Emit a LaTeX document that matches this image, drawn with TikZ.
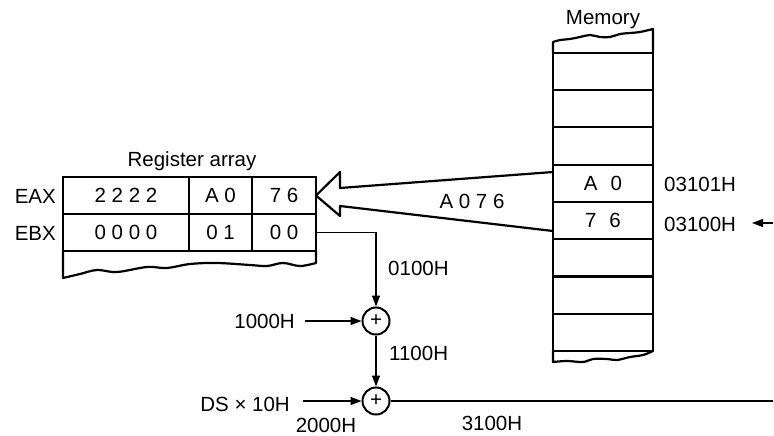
\documentclass[tikz,border=0pt]{standalone}
\usepackage{fontspec}
\setmainfont{Liberation Sans}
\usetikzlibrary{arrows.meta}
\begin{document}
\begin{tikzpicture}[x=1pt,y=-1pt,
  font=\fontsize{20.5}{24}\selectfont,
  boxline/.style={line width=2.2pt, line join=round},
  conn/.style={line width=1.2pt},
  arr/.style={conn,-{Triangle[length=11pt,width=8pt]}},
  cell/.style={draw,line width=2.2pt,minimum height=37.3pt,inner sep=0pt,anchor=center},
  regcell/.style={draw,line width=2.2pt,minimum height=37pt,inner sep=0pt,anchor=center},
  adder/.style={circle,draw,line width=2pt,minimum size=27pt,inner sep=0pt},
  lbl/.style={inner sep=0pt}]
\useasboundingbox (0,0) rectangle (774,436);
\fill[white] (0,0) rectangle (774,436);

% ---------- Big transfer arrow ----------
\coordinate (tip) at (316,195.5);
\draw[boxline] (553,172) -- (340,188) -- (340,172) -- (tip) -- (340,216) -- (340,206) -- (553,231);
\node[lbl] (val) at (472,201) {A 0 7 6};

% ---------- Register array ----------
\node[lbl,anchor=base] (regtitle) at (192,166) {Register array};
\node[regcell,minimum width=126pt] (eax1) at (126,195.5) {2 2 2 2};
\node[regcell,minimum width=63pt]  (eax2) at (220.5,195.5) {A 0};
\node[regcell,minimum width=64pt]  (eax3) at (284,195.5) {7 6};
\node[regcell,minimum width=126pt] (ebx1) at (126,232.5) {0 0 0 0};
\node[regcell,minimum width=63pt]  (ebx2) at (220.5,232.5) {0 1};
\node[regcell,minimum width=64pt]  (ebx3) at (284,232.5) {0 0};
\node[lbl,anchor=east] (eaxl) at (56,196) {EAX};
\node[lbl,anchor=east] (ebxl) at (56,233) {EBX};
\draw[boxline] (63,251) -- plot[smooth,tension=0.6] coordinates
  {(63,278) (80,274) (97,270) (117,272) (147,267) (167,268) (190,264) (217,263) (250,265) (267,266) (283,263) (300,266) (316,263)}
  -- (316,251);

% ---------- Memory ----------
\node[lbl,anchor=base] (memtitle) at (603,25) {Memory};
\foreach \k/\t in {0/,1/,2/,3/{A\hspace{13pt}0},4/{7\hspace{13pt}6},5/,6/,7/}{
  \node[cell,minimum width=100pt] (mem\k) at (603,{71.35+37.3*\k}) {\t};
}
\draw[boxline] (553,52.7) -- plot[smooth,tension=0.6] coordinates
  {(553,42) (560,40) (570,39) (580,37) (590,35) (600,37) (610,37) (620,34) (630,33) (640,32) (653,29)}
  -- (653,52.7);
\draw[boxline] (553,351) -- plot[smooth,tension=0.6] coordinates
  {(553,362) (567,361) (583,362) (593,359) (607,359) (617,360) (630,357) (643,355) (653,351)};
\node[lbl,anchor=west] (a3101) at (664,184) {03101H};
\node[lbl,anchor=west] (a3100) at (664,224) {03100H};
\coordinate (pstart) at (773,223);
\coordinate (pend) at (752,223);
\draw[arr] (pstart) -- (pend);

% ---------- Address computation ----------
\node[adder] (add1) at (376,321) {+};
\node[adder] (add2) at (376,401) {+};
\draw[arr] (ebx3.east) -| (add1.north);
\node[lbl,anchor=west] (l0100) at (388,268) {0100H};
\draw[arr] (add1.south) -- (add2.north);
\node[lbl,anchor=west] (l1100) at (389,353) {1100H};
\node[lbl,anchor=east] (l1000) at (295,321.5) {1000H};
\coordinate (s1000) at (305,321);
\draw[arr] (s1000) -- (add1.west);
\node[lbl,anchor=east] (lds) at (290,404) {DS × 10H};
\coordinate (sds) at (303,401);
\draw[arr] (sds) -- (add2.west);
\node[lbl] (l2000) at (326,425) {2000H};
\coordinate (out) at (773,401);
\draw[conn] (add2.east) -- (out);
\node[lbl] (l3100) at (492,423) {3100H};
\end{tikzpicture}
\end{document}
